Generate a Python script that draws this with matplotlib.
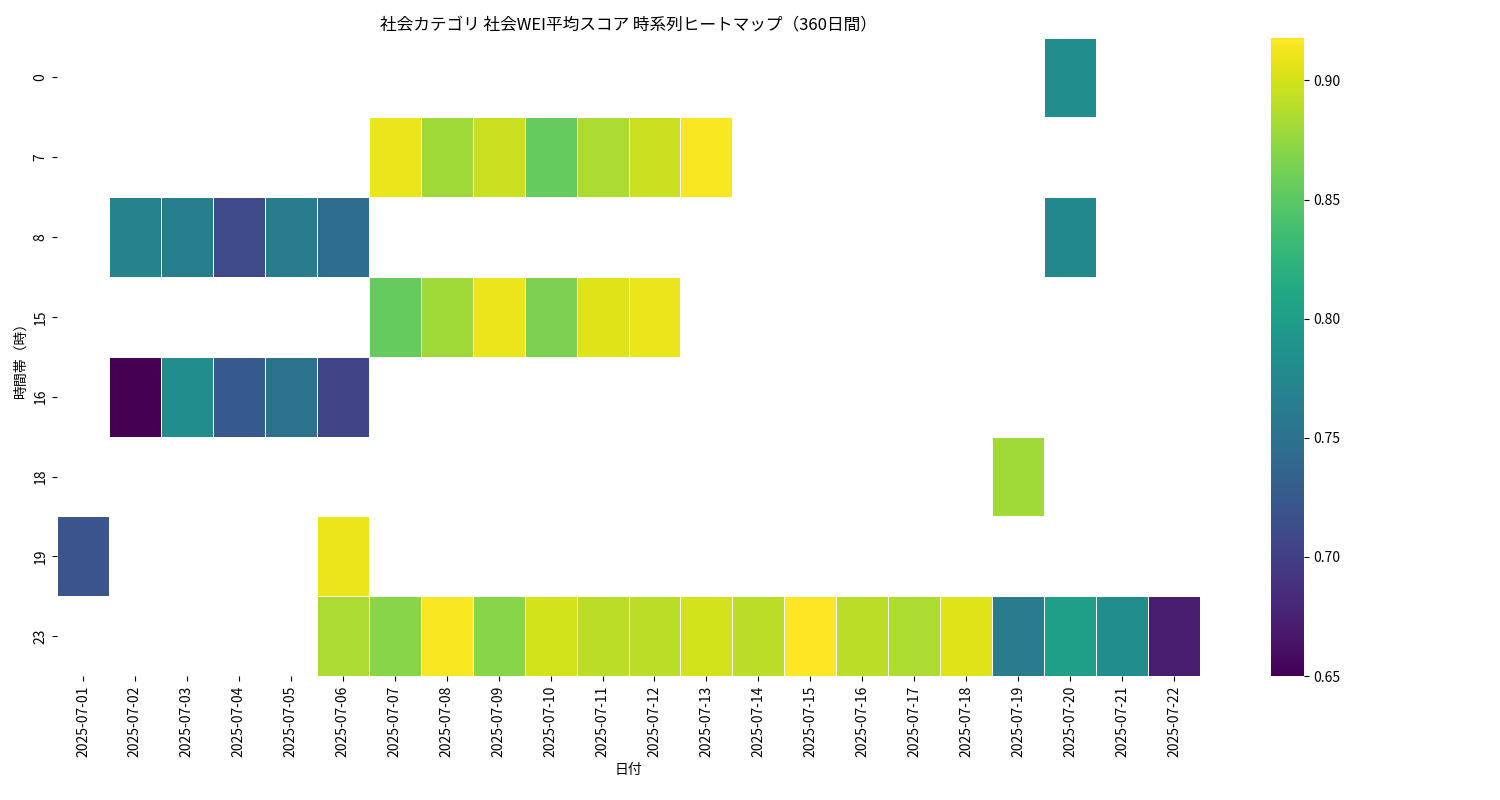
import numpy as np
import pandas as pd
import matplotlib
matplotlib.use("Agg")
import matplotlib.pyplot as plt
import seaborn as sns

plt.rcParams["font.family"] = "Noto Sans CJK JP"

dates = [f"2025-07-{d:02d}" for d in range(1, 23)]
hours = [0, 7, 8, 15, 16, 18, 19, 23]

row_0 = {"2025-07-20": 0.78}
row_7 = {"2025-07-07": 0.91, "2025-07-08": 0.88, "2025-07-09": 0.895, "2025-07-10": 0.855,
         "2025-07-11": 0.885, "2025-07-12": 0.895, "2025-07-13": 0.915}
row_8 = {"2025-07-02": 0.77, "2025-07-03": 0.765, "2025-07-04": 0.71, "2025-07-05": 0.76,
         "2025-07-06": 0.745, "2025-07-20": 0.775}
row_15 = {"2025-07-07": 0.855, "2025-07-08": 0.88, "2025-07-09": 0.91, "2025-07-10": 0.865,
          "2025-07-11": 0.905, "2025-07-12": 0.91}
row_16 = {"2025-07-02": 0.65, "2025-07-03": 0.78, "2025-07-04": 0.725, "2025-07-05": 0.75,
          "2025-07-06": 0.705}
row_18 = {"2025-07-19": 0.88}
row_19 = {"2025-07-01": 0.72, "2025-07-06": 0.91}
row_23 = {"2025-07-06": 0.885, "2025-07-07": 0.87, "2025-07-08": 0.915, "2025-07-09": 0.87,
          "2025-07-10": 0.90, "2025-07-11": 0.89, "2025-07-12": 0.89, "2025-07-13": 0.90,
          "2025-07-14": 0.89, "2025-07-15": 0.918, "2025-07-16": 0.89, "2025-07-17": 0.885,
          "2025-07-18": 0.905, "2025-07-19": 0.76, "2025-07-20": 0.80, "2025-07-21": 0.78,
          "2025-07-22": 0.67}

rows = [row_0, row_7, row_8, row_15, row_16, row_18, row_19, row_23]
df = pd.DataFrame([[r.get(d, np.nan) for d in dates] for r in rows], index=hours, columns=dates)

fig = plt.figure(figsize=(15, 8), dpi=100)
ax = fig.add_axes([0.038, 0.155, 0.762, 0.798])
cax = fig.add_axes([0.847, 0.155, 0.022, 0.798])
sns.heatmap(df, ax=ax, cbar_ax=cax, cmap="viridis", linewidths=0.5, linecolor="white")
ax.set_title("社会カテゴリ 社会WEI平均スコア 時系列ヒートマップ（360日間）", fontsize=12)
ax.set_xlabel("日付")
ax.set_ylabel("時間帯（時）")
ax.set_xticklabels(dates, rotation=90)
ax.set_yticklabels([str(h) for h in hours], rotation=90, va="center")
fig.savefig("out.png")
